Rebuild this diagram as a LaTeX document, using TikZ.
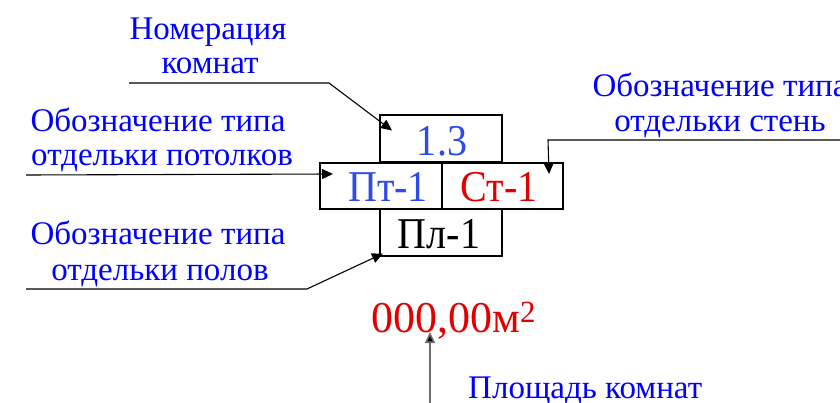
\documentclass[tikz,border=0pt]{standalone}
\usepackage{fontspec}
\setmainfont{Liberation Serif}
\usetikzlibrary{arrows.meta}
\definecolor{lblblue}{RGB}{0,0,255}
\definecolor{boxblue}{RGB}{45,75,235}
\definecolor{myred}{RGB}{225,0,0}
\definecolor{areagray}{RGB}{110,110,110}
\newcommand{\cond}[1]{\scalebox{0.91}[1]{#1}}
\begin{document}
\begin{tikzpicture}[x=1pt,y=-1pt,
  lbl/.style={font=\fontsize{33}{36}\selectfont, text=lblblue, inner sep=0pt, anchor=base},
  boxtxt/.style={font=\fontsize{44}{48}\selectfont, inner sep=0pt, anchor=base},
  cell/.style={draw, line width=2pt, inner sep=0pt, minimum width=122pt, minimum height=47pt},
  leader/.style={line width=1.1pt, -{Triangle[length=11pt,width=10pt]}},
]
\useasboundingbox (0,0) rectangle (840,403);
\clip (0,0) rectangle (840,403);

% cells
\node[cell] (top) at (441,139) {};
\node[cell, minimum width=122pt, minimum height=46pt] (midL) at (381,186) {};
\node[cell, minimum width=121pt, minimum height=46pt] (midR) at (502.5,186) {};
\node[cell] (bot) at (441,233) {};

% cell texts
\node[boxtxt, text=boxblue] (t13) at (442,155.5) {\cond{1.3}};
\node[boxtxt, text=boxblue] (tPt) at (388,202) {\cond{Пт-1}};
\node[boxtxt, text=myred] (tSt) at (499,202) {\cond{Ст-1}};
\node[boxtxt, text=black] (tPl) at (439,248) {\cond{Пл-1}};
\node[boxtxt, text=myred, anchor=base west] (area) at (371,332) {000,00м\textsuperscript{2}};

% labels
\node[lbl] (numA) at (208,40) {Номерация};
\node[lbl] (numB) at (210,74) {комнат};
\node[lbl] (ceilA) at (158,132) {Обозначение типа};
\node[lbl] (ceilB) at (162,166) {отдельки потолков};
\node[lbl] (floorA) at (158,245) {Обозначение типа};
\node[lbl] (floorB) at (160,280) {отдельки полов};
\node[lbl] (wallA) at (720,97) {Обозначение типа};
\node[lbl] (wallB) at (720,132) {отдельки стень};
\node[lbl, anchor=base west] (areaLbl) at (468,398) {Площадь комнат};

% leader coordinates
\coordinate (numEnd) at (129,83);
\coordinate (numKnee) at (329,83);
\coordinate (ceilEnd) at (26,175);
\coordinate (wallEnd) at (850,140);
\coordinate (wallKnee) at (548,140);
\coordinate (floorEnd) at (26,289);
\coordinate (floorKnee) at (307,289);
\coordinate (areaEnd) at (430,410);

% connectors
\draw[leader] (numEnd) -- (numKnee) -- ([shift={(13,16)}]top.north west);
\draw[leader] (ceilEnd) -- ([shift={(14,12)}]midL.north west);
\draw[leader] (wallEnd) -- (wallKnee) -- ([shift={(-15,12)}]midR.north east);
\draw[leader] (floorEnd) -- (floorKnee) -- ([shift={(4,-4)}]bot.south west);
\draw[draw=areagray, line width=1.6pt, -{Triangle[length=11pt,width=10pt,fill=black]}] (areaEnd) -- ([xshift=59pt]area.base west);
\end{tikzpicture}
\end{document}
